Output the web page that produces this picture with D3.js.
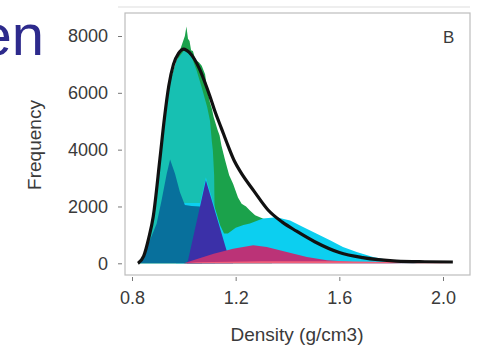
<!DOCTYPE html>
<html>
<head>
<meta charset="utf-8">
<script src="https://cdn.jsdelivr.net/npm/d3@7"></script>
<style>
  body { margin: 0; background: #fff; }
  text { font-family: "Liberation Sans", Arial, sans-serif; }
</style>
</head>
<body>
<div id="chart"></div>
<script>
// tick labels
const xTicks = [0.8, 1.2, 1.6, 2.0];
const yTicks = [0, 2000, 4000, 6000, 8000];

// [density, frequency] pairs, one list per group
const greenPts = [[0.823,0],[0.844,200],[0.882,1550],[0.908,3600],[0.947,6400],[0.985,7500],[1.004,8000],[1.010,8330],[1.016,7900],[1.022,7820],[1.028,7500],[1.035,7470],[1.045,7150],[1.058,7080],[1.069,6950],[1.082,6650],[1.088,6250],[1.101,5650],[1.108,5450],[1.115,5150],[1.13,4700],[1.138,4500],[1.145,4150],[1.159,3640],[1.175,3100],[1.19,2800],[1.209,2320],[1.223,2100],[1.24,2000],[1.255,1860],[1.275,1690],[1.307,1570],[1.32,1200],[1.34,0]];
const tealPts = [[0.823,0],[0.844,200],[0.865,850],[0.882,1550],[0.908,3600],[0.927,5050],[0.947,6350],[0.972,7150],[1.0,7480],[1.015,7420],[1.031,7240],[1.05,6770],[1.069,6190],[1.09,5500],[1.101,5020],[1.108,4300],[1.112,3970],[1.117,3100],[1.121,0]];
const cyanPts = [[0.97,1500],[1.0,2120],[1.063,2120],[1.085,3030],[1.10,2560],[1.12,1950],[1.14,1340],[1.155,1050],[1.17,1050],[1.2,1250],[1.23,1350],[1.255,1400],[1.305,1580],[1.358,1625],[1.41,1510],[1.46,1275],[1.513,1040],[1.564,807],[1.614,572],[1.667,397],[1.73,221],[1.795,105],[1.85,40],[1.9,0]];
const steelPts = [[0.831,0],[0.845,300],[0.869,807],[0.895,1390],[0.914,2210],[0.934,3150],[0.947,3650],[0.966,3150],[0.985,2500],[1.004,2050],[1.03,2020],[1.062,2000],[1.07,0]];
const indigoPts = [[1.012,0],[1.016,100],[1.085,2920],[1.165,450],[1.19,0]];
const magentaPts = [[1.0,0],[1.015,50],[1.115,340],[1.19,515],[1.268,632],[1.32,575],[1.397,400],[1.475,220],[1.552,105],[1.653,45],[1.75,20],[1.85,0]];
const pinkPts = [[1.0,0],[1.05,40],[1.3,70],[1.6,70],[1.8,50],[1.95,20],[2.03,0]];
// fitted curve
const fitPts = [[0.823,0],[0.845,250],[0.865,900],[0.882,1650],[0.908,3700],[0.925,5100],[0.942,6250],[0.96,7000],[0.98,7400],[1.0,7540],[1.02,7430],[1.04,7200],[1.06,6850],[1.08,6400],[1.10,5900],[1.12,5350],[1.145,4750],[1.17,4150],[1.195,3600],[1.22,3200],[1.27,2550],[1.325,1876],[1.38,1450],[1.435,1130],[1.505,760],[1.60,380],[1.69,200],[1.82,80],[1.93,55],[2.038,45]];

const layers = [
  {pts: greenPts,   color: "#1ba24b"},
  {pts: tealPts,    color: "#17c0b2"},
  {pts: cyanPts,    color: "#0ccff0"},
  {pts: steelPts,   color: "#08709c"},
  {pts: indigoPts,  color: "#3b30a8"},
  {pts: magentaPts, color: "#bb3377"},
  {pts: pinkPts,    color: "#f0607a"}
];

const width = 483;
const height = 349;

const svg = d3.select("#chart")
  .append("svg")
  .attr("width", width)
  .attr("height", height);

// slide title fragment (cut at the left edge, as in the source slide)
svg.append("text")
  .attr("x", 44)
  .attr("y", 55)
  .attr("text-anchor", "end")
  .attr("fill", "#2d2a8c")
  .style("font-size", "58px")
  .text("en");

// faint slide rule above the plot
svg.append("line")
  .attr("x1", 118).attr("x2", 470)
  .attr("y1", 7).attr("y2", 7)
  .attr("stroke", "#eeeeee")
  .attr("stroke-width", 2);

const box = {left: 125, top: 13, right: 470, bottom: 275};

const x = d3.scaleLinear()
  .domain([0.8, 2.0])
  .range([132, 443]);

const y = d3.scaleLinear()
  .domain([0, 8000])
  .range([263.3, 36]);

const area = d3.area()
  .x(d => x(d[0]))
  .y0(y(0))
  .y1(d => y(d[1]));

layers.forEach(l => {
  svg.append("path")
    .datum(l.pts)
    .attr("d", area)
    .attr("fill", l.color);
});

svg.append("path")
  .datum(fitPts)
  .attr("d", d3.line()
    .x(d => x(d[0]))
    .y(d => y(d[1]))
    .curve(d3.curveMonotoneX))
  .attr("fill", "none")
  .attr("stroke", "#111")
  .attr("stroke-width", 3.2);

// frame
svg.append("rect")
  .attr("x", box.left)
  .attr("y", box.top)
  .attr("width", box.right - box.left)
  .attr("height", box.bottom - box.top)
  .attr("fill", "none")
  .attr("stroke", "#bdbdbd")
  .attr("stroke-width", 1.2);

const yAxis = svg.append("g")
  .attr("transform", "translate(122,0)")
  .call(d3.axisLeft(y).tickValues(yTicks).tickFormat(d3.format("d")).tickSize(4).tickPadding(10));

const xAxis = svg.append("g")
  .attr("transform", "translate(0,277)")
  .call(d3.axisBottom(x).tickValues(xTicks).tickFormat(d3.format(".1f")).tickSize(4).tickPadding(10));

[yAxis, xAxis].forEach(g => {
  g.select(".domain").remove();
  g.selectAll(".tick line").attr("stroke", "#777");
  g.selectAll(".tick text")
    .attr("fill", "#3a3a3a")
    .style("font-size", "18px")
    .style("font-family", "'Liberation Sans', Arial, sans-serif");
});

svg.append("text")
  .attr("x", 297)
  .attr("y", 341)
  .attr("text-anchor", "middle")
  .attr("fill", "#3a3a3a")
  .style("font-size", "19px")
  .text("Density (g/cm3)");

svg.append("text")
  .attr("transform", "translate(41,145) rotate(-90)")
  .attr("text-anchor", "middle")
  .attr("fill", "#3a3a3a")
  .style("font-size", "19px")
  .text("Frequency");

svg.append("text")
  .attr("x", 443)
  .attr("y", 43)
  .attr("fill", "#3a3a3a")
  .style("font-size", "17px")
  .text("B");
</script>
</body>
</html>
